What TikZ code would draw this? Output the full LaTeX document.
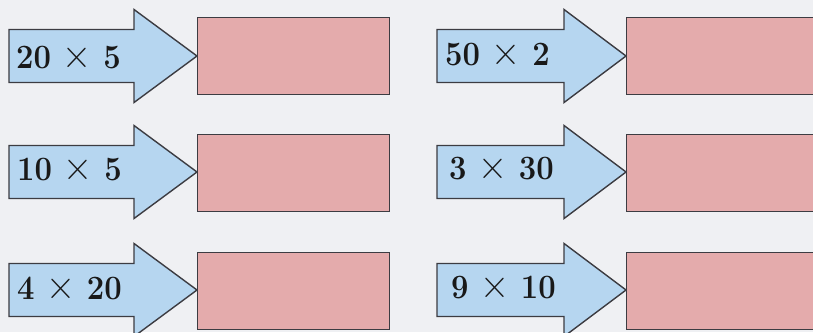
\documentclass[tikz,border=0pt]{standalone}
\usepackage{fontspec}
\usepackage{graphicx}
\definecolor{bgc}{RGB}{239,240,243}
\definecolor{arrowblue}{RGB}{182,214,240}
\definecolor{boxpink}{RGB}{228,171,172}
\definecolor{edgegray}{RGB}{60,60,66}
\newcommand\rowarrow[4]{% x0, head base, tip, yc
  \draw[arrowshape] (#1,#4-26.5) -- (#2,#4-26.5) -- (#2,#4-46.5) -- (#3,#4)
    -- (#2,#4+46.5) -- (#2,#4+26.5) -- (#1,#4+26.5) -- cycle;}
\newcommand\tallnum[1]{\scalebox{1}[1.1]{#1}}
\newcommand\timessign{{\mdseries\scalebox{1.3}[1.25]{×}}}
\begin{document}
\begin{tikzpicture}[x=1pt,y=-1pt,
  arrowshape/.style={fill=arrowblue,draw=edgegray,line width=1.4pt,line join=miter},
  answerbox/.style={rectangle,fill=boxpink,draw=edgegray,line width=1.4pt,
    inner sep=0pt,minimum height=77pt,anchor=north west},
  lbl/.style={inner sep=0pt,anchor=base west,text=black!90,
    font=\fontsize{31}{31}\selectfont\bfseries}]
\clip (0,0) rectangle (813,332);
\fill[bgc] (0,0) rectangle (813,332);
% left column
\rowarrow{9}{134}{197}{56}
\rowarrow{9}{134}{197}{172}
\rowarrow{9}{134}{197}{290}
\node[answerbox,minimum width=192pt] (b1) at (197,17) {};
\node[answerbox,minimum width=192pt] (b2) at (197,134) {};
\node[answerbox,minimum width=192pt] (b3) at (197,252) {};
\node[lbl] (t1) at (16,68) {\tallnum{20 \timessign{} 5}};
\node[lbl] (t2) at (17,180) {\tallnum{10 \timessign{} 5}};
\node[lbl] (t3) at (17,299) {\tallnum{4 \timessign{} 20}};
% right column
\rowarrow{437}{564}{626}{56}
\rowarrow{437}{564}{626}{172}
\rowarrow{437}{564}{626}{290}
\node[answerbox,minimum width=220pt] (b4) at (626,17) {};
\node[answerbox,minimum width=220pt] (b5) at (626,134) {};
\node[answerbox,minimum width=220pt] (b6) at (626,252) {};
\node[lbl] (t4) at (445,65) {\tallnum{50 \timessign{} 2}};
\node[lbl] (t5) at (449,179) {\tallnum{3 \timessign{} 30}};
\node[lbl] (t6) at (451,298) {\tallnum{9 \timessign{} 10}};
\end{tikzpicture}
\end{document}
